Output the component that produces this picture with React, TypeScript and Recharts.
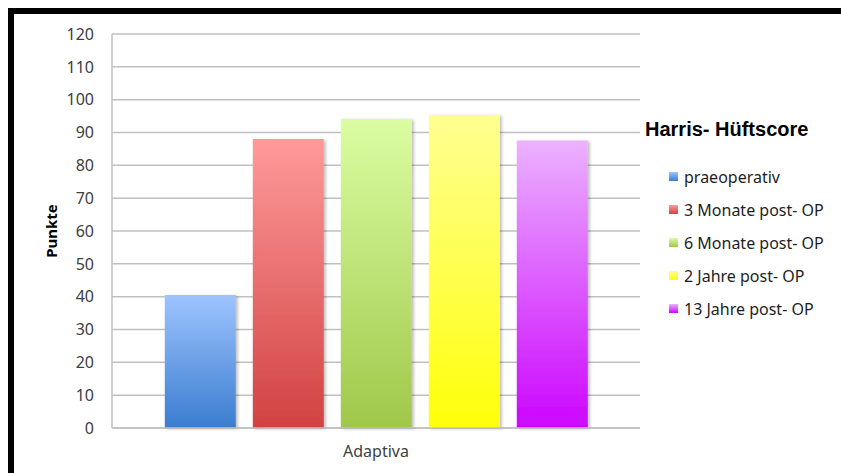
import React from "react"
import { BarChart, Bar, XAxis, YAxis, CartesianGrid, Legend, Label } from "recharts"

const categories = ["Adaptiva"]
const seriesNames = [
  "praeoperativ",
  "3 Monate post- OP",
  "6 Monate post- OP",
  "2 Jahre post- OP",
  "13 Jahre post- OP",
]
const praeoperativ = [40.5]
const monate3 = [88.0]
const monate6 = [94.1]
const jahre2 = [95.3]
const jahre13 = [87.6]
const yTicks = [0, 10, 20, 30, 40, 50, 60, 70, 80, 90, 100, 110, 120]
const legendTitle = "Harris- Hüftscore"
const yLabel = "Punkte"

const seriesValues = [praeoperativ, monate3, monate6, jahre2, jahre13]
const keys = ["s0", "s1", "s2", "s3", "s4"]

// top / bottom gradient colours per series
const gradients = [
  ["#9ec4ff", "#3a7dcf"],
  ["#ff9a9a", "#d14242"],
  ["#dbfda2", "#9fc84a"],
  ["#ffff92", "#ffff0a"],
  ["#ecb2ff", "#cc05ff"],
]

const data = categories.map((name, i) => {
  const row: Record<string, string | number> = { name }
  keys.forEach((k, j) => {
    row[k] = seriesValues[j][i]
  })
  return row
})

const tickFont = { fontFamily: "Noto Sans", fontSize: 16, fill: "#404040" }

function renderYLabel(props: any) {
  const vb = props.viewBox
  const cx = vb.x + 37
  const cy = vb.y + vb.height / 2
  return (
    <text
      x={cx}
      y={cy}
      transform={`rotate(-90 ${cx} ${cy})`}
      textAnchor="middle"
      dominantBaseline="central"
      style={{ fontFamily: "Noto Sans", fontSize: 15, fontWeight: 700, fill: "#000" }}
    >
      {yLabel}
    </text>
  )
}

function renderLegend() {
  return (
    <div style={{ fontFamily: "Noto Sans", color: "#1e1e1e" }}>
      <div
        style={{
          fontFamily: "Liberation Sans",
          fontWeight: 700,
          fontSize: 20,
          lineHeight: "22px",
          color: "#000",
          whiteSpace: "nowrap",
        }}
      >
        {legendTitle}
      </div>
      <div style={{ marginTop: 20 }}>
        {seriesNames.map((n, i) => (
          <div
            key={n}
            style={{
              height: 33,
              display: "flex",
              alignItems: "center",
              paddingLeft: 24,
              fontSize: 16,
              whiteSpace: "nowrap",
            }}
          >
            <span
              style={{
                display: "inline-block",
                width: 9,
                height: 9,
                marginRight: 6,
                background: `linear-gradient(${gradients[i][0]}, ${gradients[i][1]})`,
              }}
            />
            {n}
          </div>
        ))}
      </div>
    </div>
  )
}

export default function App() {
  return (
    <>
      <style>{`html, body { overflow: hidden; }`}</style>
      <div
        style={{
          position: "fixed",
          left: 8,
          top: 8,
          width: 827,
          height: 459,
          borderTop: "6px solid #000",
          borderLeft: "6px solid #000",
          background: "#fff",
        }}
      >
        <BarChart
          width={827}
          height={459}
          data={data}
          margin={{ top: 20, right: 201, left: 0, bottom: 0 }}
          barCategoryGap="10%"
          barGap={17}
        >
          <defs>
            {gradients.map((g, i) => (
              <linearGradient key={i} id={`grad${i}`} x1="0" y1="0" x2="0" y2="1">
                <stop offset="0%" stopColor={g[0]} />
                <stop offset="100%" stopColor={g[1]} />
              </linearGradient>
            ))}
            <filter id="shadow" x="-10%" y="-10%" width="130%" height="130%">
              <feDropShadow dx="2" dy="1" stdDeviation="1.5" floodColor="#000" floodOpacity="0.25" />
            </filter>
          </defs>
          <CartesianGrid vertical={false} stroke="#c0c0c0" strokeWidth={1.5} />
          <XAxis
            dataKey="name"
            height={45}
            tickLine={false}
            tickSize={0}
            tickMargin={18}
            axisLine={{ stroke: "#c0c0c0", strokeWidth: 1.5 }}
            tick={tickFont}
          />
          <YAxis
            width={98}
            domain={[0, 120]}
            ticks={yTicks}
            interval={0}
            tickLine={false}
            tickSize={0}
            tickMargin={18}
            axisLine={{ stroke: "#c0c0c0", strokeWidth: 1.5 }}
            tick={tickFont}
          >
            <Label content={renderYLabel} />
          </YAxis>
          <Legend
            layout="vertical"
            align="center"
            verticalAlign="middle"
            content={renderLegend}
            wrapperStyle={{ left: 631, top: 104, width: 196 }}
          />
          {keys.map((k, i) => (
            <Bar
              key={k}
              dataKey={k}
              name={seriesNames[i]}
              fill={`url(#grad${i})`}
              filter="url(#shadow)"
              isAnimationActive={false}
            />
          ))}
        </BarChart>
      </div>
    </>
  )
}
